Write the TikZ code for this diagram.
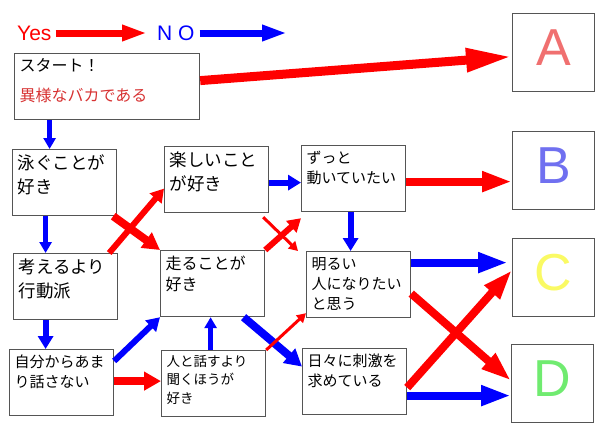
\documentclass[tikz,border=0pt]{standalone}
\usepackage{fontspec}
\setmainfont{Liberation Sans}
\newfontfamily\jp{Noto Sans CJK JP}
\usetikzlibrary{arrows.meta}
\definecolor{boxgray}{RGB}{85,85,85}
\definecolor{startred}{RGB}{215,50,50}
\definecolor{goalA}{RGB}{240,112,112}
\definecolor{goalB}{RGB}{112,112,240}
\definecolor{goalC}{RGB}{250,250,100}
\definecolor{goalD}{RGB}{112,235,112}

\begin{document}
\begin{tikzpicture}[
  x=1pt,y=-1pt,
  box/.style={draw=boxgray,line width=1.2pt,anchor=north west,inner xsep=5pt,
              inner ysep=4pt,text width=94pt,align=left},
  bigtext/.style={font=\jp\fontsize{17.5}{24}\selectfont,text height=15.5pt,text depth=42.5pt},
  midtext/.style={font=\jp\fontsize{16}{21}\selectfont,text height=15pt,text depth=43pt},
  smalltext/.style={font=\jp\fontsize{15}{20}\selectfont,text height=13.5pt,text depth=44.5pt},
  tinytext/.style={font=\jp\fontsize{13.5}{18.5}\selectfont,text height=11.5pt,text depth=46.5pt},
  goal/.style={draw=boxgray,line width=1.2pt,anchor=north west,minimum width=82pt,
               minimum height=78pt,inner sep=0pt,text depth=10pt,
               font=\fontsize{52}{52}\selectfont},
  key/.style={anchor=west,inner sep=0pt,font=\fontsize{21}{21}\selectfont},
  yesline/.style={draw=red},
  noline/.style={draw=blue},
  keytip/.style={line width=7pt,-{Triangle[length=25pt,width=15pt]}},
  longtip/.style={line width=8pt,-{Triangle[length=30pt,width=19pt]}},
  bigtip/.style={line width=8pt,-{Triangle[length=17pt,width=18pt]}},
  midtip/.style={line width=6pt,-{Triangle[length=13pt,width=15pt]}},
  smalltip/.style={line width=4.5pt,-{Triangle[length=11pt,width=12pt]}},
  thintip/.style={line width=3pt,-{Triangle[length=9pt,width=10pt]}}
]
\useasboundingbox (0,0) rectangle (599,437);
\node[key,red] (yes) at (17,33) {Yes};
\node[key,blue] (no) at (157,33) {N O};
\coordinate (yestip) at (147,33);
\coordinate (notip) at (287,33);
\node[box,text width=175pt,font=\jp\fontsize{16}{30}\selectfont,text height=14pt,
      text depth=44pt] (start) at (14,53) {スタート！\\{\color{startred}異様なバカである}};
\node[box,bigtext] (swim) at (12,149) {泳ぐことが\\好き};
\node[box,bigtext] (fun) at (164,146) {楽しいこと\\が好き};
\node[box,bigtext] (think) at (13,253) {考えるより\\行動派};
\node[box,smalltext] (quiet) at (9,349) {自分からあま\\り話さない};
\node[box,midtext] (run) at (160,250) {走ることが\\好き};
\node[box,tinytext] (listen) at (161,350) {人と話すより\\聞くほうが\\好き};
\node[box,smalltext] (move) at (301,145) {ずっと\\動いていたい};
\node[box,smalltext] (bright) at (306,251) {明るい\\人になりたい\\と思う};
\node[box,smalltext] (thrill) at (302,348) {日々に刺激を\\求めている};
\node[goal,text=goalA] (A) at (512,13) {A};
\node[goal,text=goalB] (B) at (512,131) {B};
\node[goal,text=goalC] (C) at (512,238) {C};
\node[goal,text=goalD] (D) at (511,344) {D};
\draw[yesline,keytip] ([xshift=4pt]yes.east) -- (yestip);
\draw[noline,keytip] ([xshift=5pt]no.east) -- (notip);
\draw[yesline,line width=9pt,-{Triangle[length=46pt,width=22pt]}]
  ([yshift=6pt]start.east) -- ([yshift=-4pt]A.west);
\draw[noline,smalltip] ([xshift=-15pt]swim.north |- start.south) -- ([xshift=-15pt]swim.north);
\draw[noline,smalltip] ([xshift=-19pt]swim.south) -- ([xshift=-19pt]swim.south |- think.north);
\draw[noline,midtip] ([xshift=-20pt]think.south) -- ([xshift=-20pt]think.south |- quiet.north);
\draw[yesline,bigtip] ([xshift=-4pt]swim.south east) -- (run.north west);
\draw[yesline,midtip] ([xshift=-9pt]think.north east) -- ([yshift=-9pt]fun.west);
\draw[noline,midtip] ([yshift=-3pt]fun.east) -- ([yshift=-3pt]fun.east -| move.west);
\draw[yesline,thintip] ([xshift=-6pt,yshift=-4pt]fun.south east) -- ([xshift=-8pt]bright.north west);
\draw[yesline,midtip] (run.north east) -- ([yshift=-6pt]move.south west);
\draw[yesline,longtip] ([yshift=-3pt]move.east) -- ([yshift=-3pt]move.east -| B.west);
\draw[noline,midtip] ([xshift=-3pt]move.south) -- ([xshift=-3pt]move.south |- bright.north);
\draw[noline,longtip] ([yshift=22pt]bright.east) -- ([yshift=22pt,xshift=-4pt]bright.east -| C.west);
\draw[yesline,longtip] ([yshift=-9pt]bright.east) -- ([yshift=3pt]D.west);
\draw[yesline,longtip] ([yshift=-6pt]thrill.east) -- ([yshift=7.5pt]C.west);
\draw[noline,longtip] ([yshift=-14pt]thrill.east) -- ([yshift=-14pt]thrill.east -| D.west);
\draw[noline,midtip] ([yshift=-12pt]quiet.north east) -- (run.south west);
\draw[yesline,bigtip] ([yshift=1.5pt]quiet.east) -- ([yshift=1.5pt]quiet.east -| listen.west);
\draw[noline,smalltip] ([xshift=-3pt]listen.north) -- ([xshift=-3pt]listen.north |- run.south);
\draw[noline,bigtip] ([xshift=31pt]run.south) -- ([yshift=15pt]thrill.west);
\draw[yesline,thintip] (listen.north east) -- ([yshift=5pt]bright.south west);
\end{tikzpicture}
\end{document}
